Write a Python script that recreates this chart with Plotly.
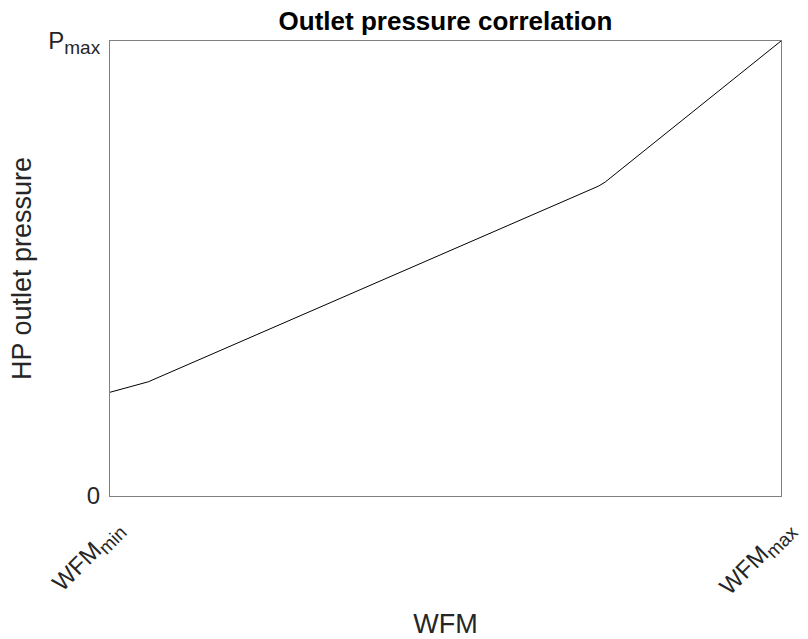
import plotly.graph_objects as go

# Normalised flow (WFM_min = 0, WFM_max = 1) and outlet pressure (0 .. P_max = 1)
wfm = [0.0, 0.057, 0.728, 0.738, 1.0]
pressure = [0.228, 0.251, 0.681, 0.690, 1.0]

x_tick_vals = [0.0, 1.0]
x_tick_text = ["WFM<sub><span style='font-size:19px'>min</span></sub>",
               "WFM<sub><span style='font-size:19px'>max</span></sub>"]
y_tick_vals = [0.0, 1.0]
y_tick_text = ["0", "P<sub><span style='font-size:19px'>max</span></sub>"]

font_family = "Liberation Sans, Arial, sans-serif"
axis_color = "#808080"
text_color = "#262626"

fig = go.Figure(
    go.Scatter(
        x=wfm,
        y=pressure,
        mode="lines",
        line=dict(color="black", width=1),
        hoverinfo="skip",
    )
)

axis_common = dict(
    showgrid=False,
    zeroline=False,
    showline=True,
    mirror=True,
    automargin=False,
    linecolor=axis_color,
    linewidth=1,
    ticks="inside",
    ticklen=7,
    tickcolor="#555555",
    tickfont=dict(family=font_family, size=24, color=text_color),
)

fig.update_xaxes(
    range=[0, 1],
    tickvals=x_tick_vals,
    ticktext=x_tick_text,
    tickangle=-45,
    ticklabelstandoff=8,
    ticklabelshift=6,
    title=dict(text="WFM", font=dict(family=font_family, size=27, color=text_color), standoff=30),
    **axis_common,
)
fig.update_yaxes(
    range=[0, 1],
    tickvals=y_tick_vals,
    ticktext=y_tick_text,
    ticklabelstandoff=4,
    title=dict(text="HP outlet pressure", font=dict(family=font_family, size=27, color=text_color), standoff=8),
    **axis_common,
)

fig.update_layout(
    width=808,
    height=639,
    margin=dict(l=110, r=27, t=41, b=143),
    paper_bgcolor="white",
    plot_bgcolor="white",
    showlegend=False,
    title=dict(
        text="<b>Outlet pressure correlation</b>",
        font=dict(family=font_family, size=26, color="black"),
        x=(110 + 781) / 2 / 808,
        xanchor="center",
        y=1 - 21 / 639,
        yanchor="middle",
    ),
)

fig.write_html("out.html")
